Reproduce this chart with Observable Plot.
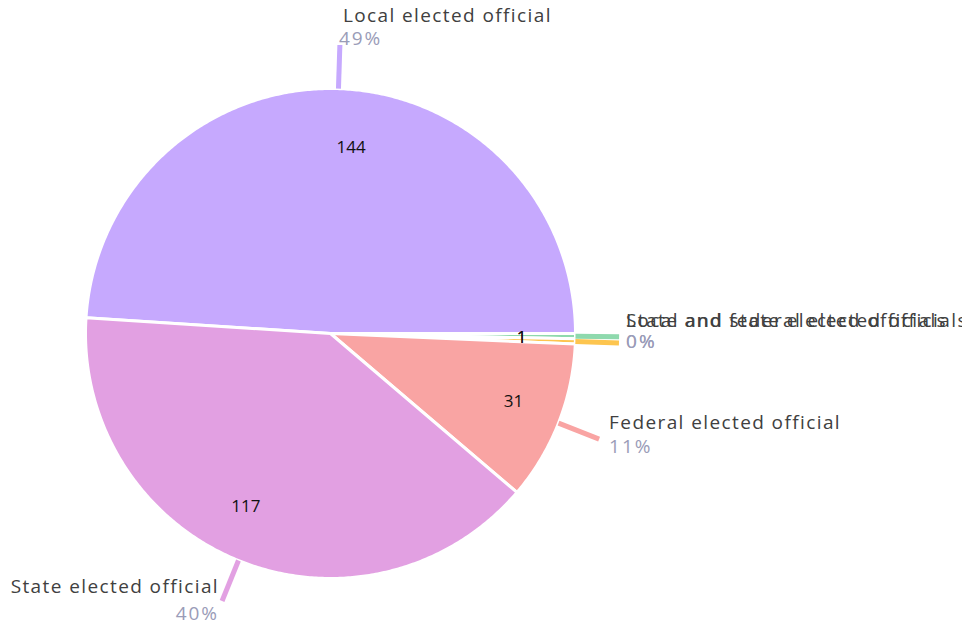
<!DOCTYPE html>
<html><head><meta charset="utf-8">
<script src="https://cdn.jsdelivr.net/npm/d3@7"></script>
<script src="https://cdn.jsdelivr.net/npm/@observablehq/plot@0.6"></script>
<style>body{margin:0;background:#fff;}</style>
</head><body><div id="chart"></div>
<script>
const categories = ["Local elected official","Local and state elected officials","State and federal elected officials","Federal elected official","State elected official"];
const values = [144, 1, 1, 31, 117];
const percentLabels = ["49%", "0%", "0%", "11%", "40%"];
const colors = ["#c6a9fe", "#8ed9ad", "#fdc54f", "#f9a4a3", "#e2a0e2"];
const startDeg = -86.3;

const total = d3.sum(values);
const a0 = startDeg * Math.PI / 180;
const pie = d3.pie().sort(null).startAngle(a0).endAngle(a0 + 2 * Math.PI);
const arcs = pie(values).map((a, i) => ({...a, name: categories[i], pct: percentLabels[i], mid: (a.startAngle + a.endAngle) / 2}));
// tiny slices share one label position
const tiny = arcs.filter(a => a.value / total < 0.01);
const tinyMid = tiny.length ? (d3.min(tiny, a => a.startAngle) + d3.max(tiny, a => a.endAngle)) / 2 : 0;
arcs.forEach(a => { a.tiny = a.value / total < 0.01; a.labelAngle = a.tiny ? tinyMid : a.mid; });
const polar = (ang, r) => [r * Math.sin(ang), r * Math.cos(ang)];

const slicePts = [];
for (const a of arcs) {
  slicePts.push({name: a.name, x: 0, y: 0});
  const n = Math.max(2, Math.ceil((a.endAngle - a.startAngle) / (Math.PI / 360)));
  for (let k = 0; k <= n; k++) {
    const t = a.startAngle + (a.endAngle - a.startAngle) * k / n;
    const [x, y] = polar(t, 1);
    slicePts.push({name: a.name, x, y});
  }
  slicePts.push({name: a.name, x: 0, y: 0});
}

const leaders = arcs.map(a => {
  const [x1, y1] = polar(a.mid, 1);
  const [x2, y2] = polar(a.mid, 1.178);
  return {name: a.name, x1, y1, x2, y2};
});

const labels = arcs.map(a => {
  const [lx, ly] = polar(a.labelAngle, 1.178);
  const s = Math.sin(a.labelAngle), c = Math.cos(a.labelAngle);
  const side = s > 0.5 ? (a.tiny ? "tiny" : "right") : (c > 0.9 ? "top" : "left");
  const [vx, vy] = polar(a.labelAngle, 0.76);
  return {...a, lx, ly, vx, vy, side};
});
const sideStyle = {
  top:   {anchor: "start", ndx: 3,  ndy: -29, pdx: -1, pdy: -6},
  right: {anchor: "start", ndx: 10, ndy: -16, pdx: 10, pdy: 8},
  tiny:  {anchor: "start", ndx: 7,  ndy: -19, pdx: 7,  pdy: 2},
  left:  {anchor: "end",   ndx: -3, ndy: -14, pdx: -3, pdy: 13}
};
const textMarks = [];
for (const side of ["top", "right", "tiny", "left"]) {
  const st = sideStyle[side];
  const d = labels.filter(l => l.side === side);
  textMarks.push(Plot.text(d, {x: "lx", y: "ly", text: "name", dx: st.ndx, dy: st.ndy, textAnchor: st.anchor,
    fill: "#404040", fontSize: 19, fontFamily: "Open Sans"}));
  textMarks.push(Plot.text(d, {x: "lx", y: "ly", text: "pct", dx: st.pdx, dy: st.pdy, textAnchor: st.anchor,
    fill: "#9a9cb8", fontSize: 19, fontFamily: "Open Sans"}));
}

const chart = Plot.plot({
  width: 962,
  height: 624,
  marginLeft: 85,
  marginRight: 387,
  marginTop: 88,
  marginBottom: 46,
  x: {domain: [-1, 1], axis: null},
  y: {domain: [-1, 1], axis: null},
  color: {domain: categories, range: colors},
  marks: [
    Plot.line(slicePts, {x: "x", y: "y", z: "name", fill: "name", stroke: "white", strokeWidth: 3, strokeLinejoin: "round"}),
    Plot.link(leaders, {x1: "x1", y1: "y1", x2: "x2", y2: "y2", stroke: "name", strokeWidth: 5}),
    Plot.text(labels.filter(l => l.vx >= 0), {x: "vx", y: "vy", text: d => String(d.value), textAnchor: "start", fill: "#111", fontSize: 17, fontFamily: "Open Sans"}),
    Plot.text(labels.filter(l => l.vx < 0), {x: "vx", y: "vy", text: d => String(d.value), textAnchor: "end", fill: "#111", fontSize: 17, fontFamily: "Open Sans"}),
    ...textMarks
  ]
});
chart.style.fontFamily = "Open Sans";
chart.style.overflow = "visible";
d3.select(chart).selectAll("text").each(function () {
  const t = this.textContent;
  if (categories.includes(t)) this.setAttribute("letter-spacing", "1.4");
  else if (percentLabels.includes(t)) this.setAttribute("letter-spacing", "2");
});
document.getElementById("chart").appendChild(chart);
</script>
</body></html>
